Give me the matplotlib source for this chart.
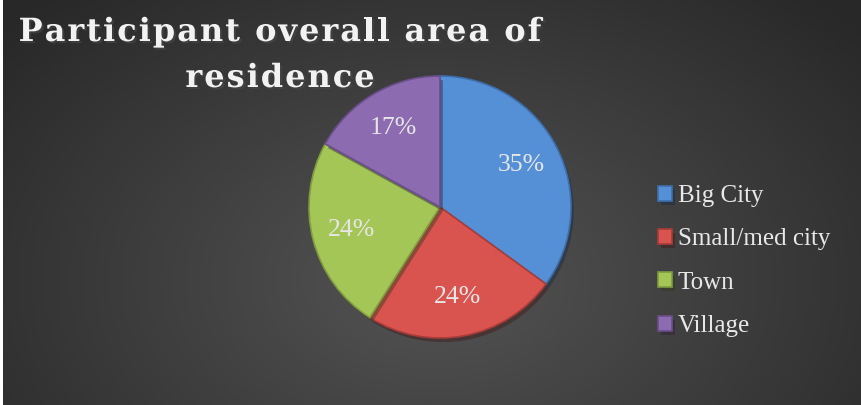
import matplotlib.pyplot as plt
import matplotlib.patheffects as pe
from matplotlib import font_manager as fm
from matplotlib.ft2font import FT2Font
import numpy as np

categories = ["Big City", "Small/med city", "Town", "Village"]
shares = [35, 24, 24, 17]
colors = ["#5590d6", "#d9534f", "#a4c656", "#8c6bb1"]
edge_colors = ["#3d6fae", "#a83c39", "#7f9c3f", "#6a4f8a"]
title_lines = ["Participant overall area of", "residence"]

W, H = 861, 405
DPI = 100
fig = plt.figure(figsize=(W / DPI, H / DPI), dpi=DPI, facecolor="white")

# dark radial grey background (thin white strip on the left edge)
bg = fig.add_axes([3 / W, 0, 1 - 3 / W, 1])
yy, xx = np.mgrid[0:H, 0:W - 3]
d = np.sqrt(((xx - 430) / 560) ** 2 + ((yy - 280) / 380) ** 2)
shade = 0.33 - 0.17 * np.clip(d, 0, 1)
bg.imshow(np.dstack([shade] * 3), aspect="auto", interpolation="bilinear")
bg.axis("off")

# pie
ax = fig.add_axes([(440 - 131) / W, (H - 207 - 131) / H, 262 / W, 262 / H])
wedges, texts, autotexts = ax.pie(
    shares,
    colors=colors,
    startangle=90,
    counterclock=False,
    autopct=lambda p: f"{p:.0f}%",
    pctdistance=0.7,
    wedgeprops=dict(linewidth=1.2),
    textprops=dict(color="#e6e6e6", fontsize=18.5, family="Liberation Serif"),
)
for w, ec in zip(wedges, edge_colors):
    w.set_edgecolor(ec)
    w.set_path_effects([pe.withSimplePatchShadow(offset=(2, -3), alpha=0.45)])
ax.set_xlim(-1, 1)
ax.set_ylim(-1, 1)
ax.set_aspect("equal")
ax.axis("off")

# title: letter-spaced bold serif, two centred lines
title_size = 23
tracking = 2.0  # extra pixels between characters
title_prop = fm.FontProperties(family="DejaVu Serif", weight="bold", size=title_size)
ft = FT2Font(fm.findfont(title_prop))
ft.set_size(title_size, DPI)


def advance(ch):
    return ft.load_char(ord(ch)).linearHoriAdvance / 65536


shadow = [pe.withSimplePatchShadow(offset=(1.5, -1.5), alpha=0.6)]
for line, base in zip(title_lines, [41, 87]):
    widths = [advance(c) for c in line]
    total = sum(widths) + tracking * (len(line) - 1)
    x = 280 - total / 2
    for c, w in zip(line, widths):
        if c != " ":
            fig.text(x / W, 1 - base / H, c, ha="left", va="baseline",
                     fontproperties=title_prop, color="#f2f2f2",
                     path_effects=shadow)
        x += w + tracking

# legend on the right
leg = fig.legend(
    wedges, categories,
    loc="center left", bbox_to_anchor=(658 / W, 1 - 261 / H),
    frameon=False, borderpad=0, borderaxespad=0,
    handlelength=0.55, handleheight=0.55, handletextpad=0.25,
    labelspacing=0.85,
    prop=dict(family="Liberation Serif", size=18),
)
for t in leg.get_texts():
    t.set_color("#e8e8e8")

fig.savefig("out.png", dpi=DPI)
